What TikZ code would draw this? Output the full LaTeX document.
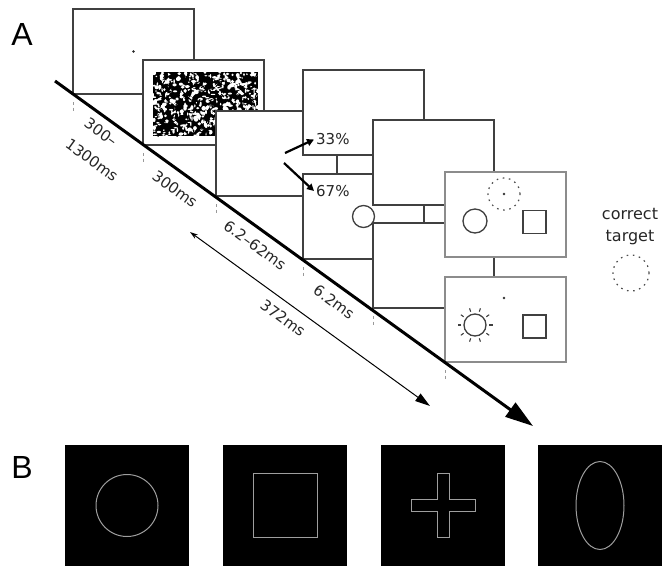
\documentclass[tikz,border=0pt]{standalone}
\usepackage{fontspec}
\setmainfont{DejaVu Sans}
\newfontfamily\panelfont{Liberation Sans}
\usetikzlibrary{arrows.meta}
\begin{document}
\begin{tikzpicture}[x=1pt,y=-1pt,
  frame/.style={draw=black!75, line width=1.4pt, fill=white, minimum width=121pt, minimum height=85pt, inner sep=0pt, outer sep=0pt, anchor=north west},
  testframe/.style={frame, draw=black!45, line width=2.3pt},
  tickmark/.style={draw=black!40, line width=0.9pt, dash pattern=on 3pt off 2.5pt},
  lbl/.style={font=\fontsize{15}{18}\selectfont, text=black!85, rotate=-36, inner sep=0pt},
  pct/.style={font=\fontsize{15}{18}\selectfont, text=black!85, inner sep=2pt, anchor=west},
  obj/.style={draw=black!75, line width=1.3pt, fill=white, inner sep=0pt, outer sep=0pt},
  dotc/.style={draw=black!70, line width=1.2pt, dash pattern=on 1.6pt off 4.6pt, inner sep=0pt, circle},
  bsq/.style={fill=black, draw=none, minimum width=124pt, minimum height=121pt, inner sep=0pt, outer sep=0pt, anchor=north west},
  bshape/.style={draw=white!62!black, line width=1pt},
  pctarrow/.style={line width=2.2pt, -{Triangle[length=7pt,width=7pt]}},
  panel/.style={font=\panelfont\fontsize{32}{36}\selectfont, inner sep=0pt}
]
\useasboundingbox (0,0) rectangle (662,566);

% ---------- Panel A ----------
\node[panel] (labA) at (22,34) {A};

\node[frame] (f1) at (73,9) {};
\fill[black!85] (f1.center) circle (1.4);

\node[frame] (f2) at (143,60) {};
\begin{scope}
  \clip (153,72) rectangle (258,136);
  \fill[black] (153,72) rectangle (258,136);
  \pgfmathsetseed{12}
  \foreach \i in {1,...,520}{
    \pgfmathsetmacro{\nx}{153+105*rnd}
    \pgfmathsetmacro{\ny}{72+64*rnd}
    \pgfmathsetmacro{\na}{0.6+1.8*rnd}
    \pgfmathsetmacro{\nb}{0.6+1.8*rnd}
    \fill[white] (\nx,\ny) ellipse ({\na} and {\nb});
  }
  \foreach \i in {1,...,140}{
    \pgfmathsetmacro{\nx}{153+105*rnd}
    \pgfmathsetmacro{\ny}{72+64*rnd}
    \pgfmathsetmacro{\nr}{360*rnd}
    \draw[black, line width=1.1pt] (\nx,\ny) -- ++(\nr:4);
  }
\end{scope}

\node[frame] (f3) at (216,111) {};
\node[frame] (f4) at (303,70) {};
\node[frame] (f4b) at (303,174) {};
\node[obj, circle, minimum size=22pt] (cue) at (f4b.center) {};
\node[frame] (f5a) at (373,120) {};
\node[frame] (f5b) at (373,223) {};
\node[testframe] (f6a) at (445,172) {};
\node[testframe] (f6b) at (445,277) {};

% contents of test frames
\node[obj, circle, minimum size=24pt] (c6a) at (475,221) {};
\node[obj, rectangle, minimum size=23pt] (s6a) at (534.5,222) {};
\node[dotc, minimum size=32pt] (t6a) at (504,194) {};
\fill[black!80] (t6a.center) circle (1.3);

\fill[black!80] (504,298) circle (1.3);
\node[obj, circle, minimum size=22pt] (c6b) at (475,325) {};
\foreach \a in {0,36,...,324}
  \draw[black!75, line width=1.1pt] (c6b.center) ++(\a:14) -- ++(\a:3.5);
\node[obj, rectangle, minimum size=23pt] (s6b) at (534.5,326.5) {};

% percentages
\node[pct] (p33) at (314,139.5) {33\%};
\node[pct] (p67) at (314,191) {67\%};
\coordinate (a33) at (285,153);
\coordinate (a67) at (284,163);
\draw[pctarrow] (a33) -- (p33.west);
\draw[pctarrow] (a67) -- (p67.west);

% correct target legend
\node[font=\fontsize{16}{19}\selectfont, text=black!85, inner sep=0pt] (corr) at (630,214) {correct};
\node[font=\fontsize{16}{19}\selectfont, text=black!85, inner sep=0pt] (targ) at (630,238) {target};
\node[dotc, minimum size=36pt] (tleg) at (631,273) {};

% ticks
\foreach \f in {f1,f2,f3,f4b,f5b,f6b}
  \draw[tickmark] ([yshift=-8pt]\f.south west) -- ++(0,10);

% timeline
\coordinate (tl0) at (55,81);
\coordinate (tl1) at (533,426);
\draw[line width=3pt, -{Triangle[length=28pt,width=17pt]}] (tl0) -- (tl1);

% duration labels
\node[lbl] (l1a) at (101,132) {300–};
\node[lbl] (l1b) at (92,160) {1300ms};
\node[lbl] (l2) at (175,189) {300ms};
\node[lbl] (l3) at (255,245) {6.2–62ms};
\node[lbl] (l4) at (334,302) {6.2ms};
\node[lbl] (l5) at (283,318) {372ms};

\coordinate (d0) at (190,232);
\coordinate (d1) at (430,406);
\draw[line width=1pt, {Stealth[length=8pt,width=5pt]}-{Triangle[length=15pt,width=9pt]}] (d0) -- (d1);

% ---------- Panel B ----------
\node[panel] (labB) at (22,467) {B};
\node[bsq] (b1) at (65,445) {};
\node[bsq] (b2) at (223,445) {};
\node[bsq] (b3) at (381,445) {};
\node[bsq] (b4) at (538,445) {};

\draw[bshape] (b1.center) circle (31);
\draw[bshape] ([shift={(-32,-32)}]b2.center) rectangle ++(64,64);
\draw[bshape] ([shift={(-6,-32)}]b3.center) -- ++(12,0) -- ++(0,26) -- ++(26,0) -- ++(0,12) -- ++(-26,0) -- ++(0,26) -- ++(-12,0) -- ++(0,-26) -- ++(-26,0) -- ++(0,-12) -- ++(26,0) -- cycle;
\draw[bshape] (b4.center) ellipse (24 and 44);
\end{tikzpicture}
\end{document}
